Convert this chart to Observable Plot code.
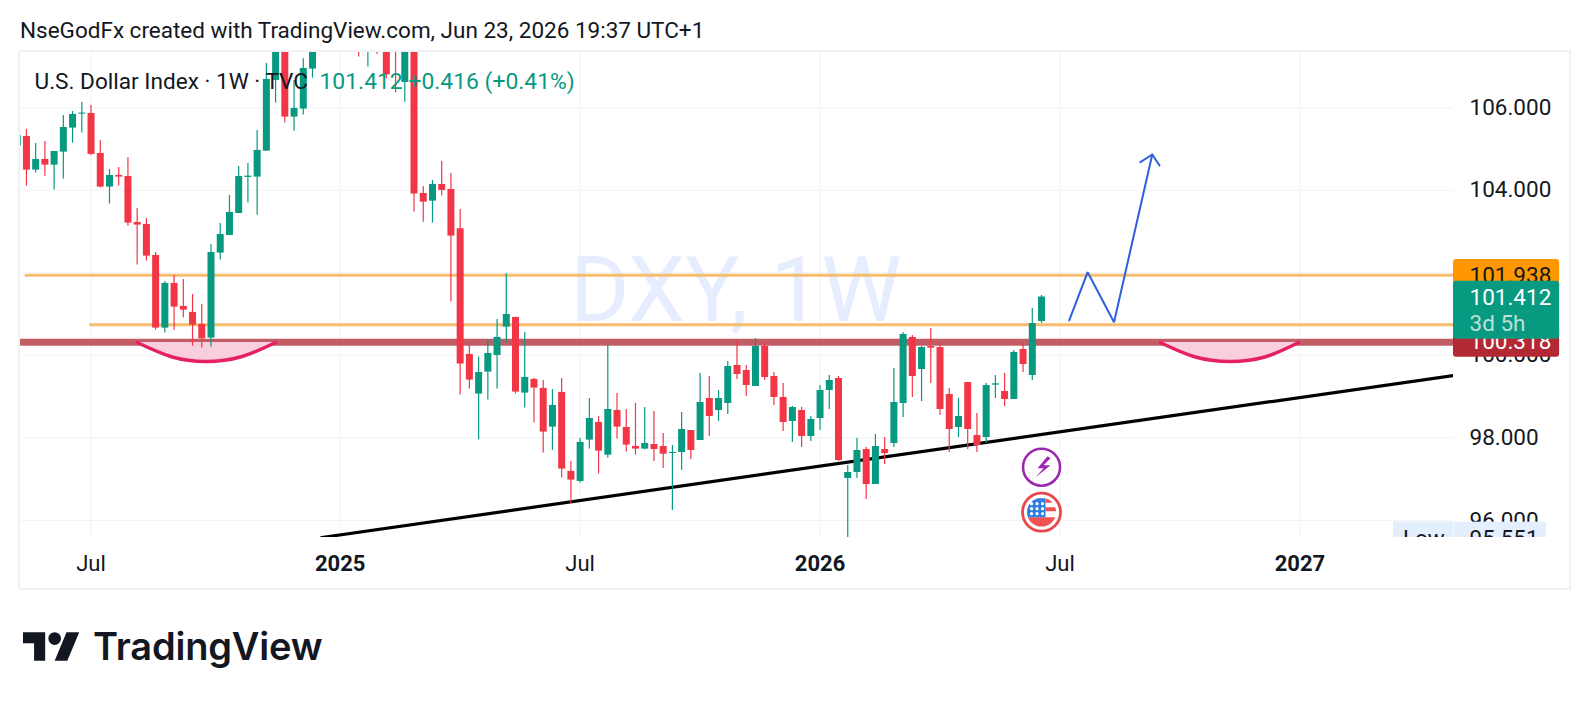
<!DOCTYPE html>
<html>
<head>
<meta charset="utf-8">
<script src="https://cdn.jsdelivr.net/npm/d3@7"></script>
<script src="https://cdn.jsdelivr.net/npm/@observablehq/plot@0.6"></script>
<style>
  html, body { margin: 0; padding: 0; background: #fff; }
  body { width: 1587px; height: 702px; overflow: hidden; position: relative; font-family: Roboto, sans-serif; color: #131722; }
  #title { height: 50px; font-size: 22.5px; line-height: 22px; padding-left: 20px; box-sizing: border-box; padding-top: 19px; white-space: nowrap; }
  #panel { position: absolute; left: 18px; top: 50px; width: 1549px; height: 536px; border: 2px solid #f1f2f5; }
  #chart { position: relative; height: 540px; }
  #chart svg { display: block; background: transparent; }
  #logo { position: absolute; left: 23px; top: 622px; display: flex; align-items: center; height: 48px; }
  #logo span { font-family: Inter, sans-serif; font-weight: 600; font-size: 38px; letter-spacing: -0.2px; margin-left: 13px; line-height: 48px; color: #131722; }
</style>
</head>
<body>
<div id="title">NseGodFx created with TradingView.com, Jun 23, 2026 19:37 UTC+1</div>
<div id="panel"></div>
<div id="chart"></div>
<div id="logo">
  <svg width="57" height="29" viewBox="0 4 36 18"><path fill="#131722" d="M14 22H7V11H0V4h14v18zM28 22h-8l7.5-18h8L28 22z"/><circle fill="#131722" cx="20" cy="8" r="4"/></svg>
  <span>TradingView</span>
</div>
<script>
// Weekly candles, first bar is the week of 6 May 2024
const firstWeek = "2024-05-06";
const opens = [105.07,105.305,104.489,104.747,104.61,104.925,105.507,105.846,105.862,104.893,104.077,104.36,104.335,103.22,103.172,102.42,100.659,101.742,101.184,101.039,100.748,100.417,102.477,102.905,103.438,104.311,104.319,104.949,106.662,107.8,105.774,105.968,106.937,108.2,108.3,108.6,108.9,109.0,107.6,108.9,108.0,107.7,106.614,107.55,103.923,103.737,104.141,104.02,103.067,100.021,99.059,99.592,99.996,100.683,100.918,99.083,99.415,99.196,98.259,99.1,97.185,96.942,97.944,98.372,97.58,98.663,98.251,97.791,97.726,97.838,97.789,97.619,97.644,98.177,97.935,98.953,98.662,98.831,99.753,99.631,99.244,100.213,99.486,98.977,98.395,98.662,98.032,98.468,99.147,99.437,97.013,97.159,97.716,96.868,97.716,97.862,98.831,100.431,99.656,100.213,100.189,99.05,98.25,99.341,98.056,98.007,99.276,99.122,98.928,100.14,99.51,100.819];
const closes = [105.33,104.489,104.747,104.61,104.941,105.523,105.838,105.871,104.869,104.077,104.36,104.319,103.204,103.156,102.404,100.659,101.742,101.168,101.095,100.732,100.4,102.493,102.929,103.463,104.335,104.343,104.966,106.687,107.9,105.774,105.984,106.953,107.7,107.8,108.6,108.9,109.0,108.4,108.9,107.9,106.8,107.4,107.6,103.907,103.713,104.141,103.996,102.889,99.786,99.398,99.584,100.045,100.433,100.99,99.108,99.463,99.205,98.138,98.784,97.241,96.974,97.888,98.469,97.677,98.687,98.259,97.823,97.726,97.863,97.716,97.603,97.644,98.201,97.692,98.856,98.516,98.953,99.728,99.534,99.268,100.213,99.462,98.977,98.371,98.735,98.032,98.444,99.147,99.389,97.45,97.159,97.692,96.868,97.789,97.619,98.856,100.504,99.486,100.189,100.173,98.686,98.201,98.516,98.201,97.813,99.268,99.308,98.928,100.068,99.777,100.771,101.412];
const highs = [105.45,105.475,105.135,105.184,104.941,105.814,105.911,106.129,106.056,105.208,104.505,104.554,104.796,103.56,103.317,102.493,101.79,101.936,101.839,101.475,101.233,102.687,103.196,103.875,104.578,104.65,105.45,107.074,108.2,108.1,106.662,107.188,107.9,108.6,108.9,109.2,109.4,109.4,109.3,109.2,108.4,108.0,107.9,107.8,104.093,104.238,104.699,104.408,103.535,100.279,99.956,100.384,100.869,101.976,100.918,100.554,99.439,99.39,99.172,99.439,97.427,97.984,98.954,98.518,100.239,99.075,98.687,98.833,98.736,98.638,98.104,97.813,98.613,98.177,99.559,99.486,99.147,99.85,100.359,99.753,100.407,100.31,99.583,99.316,98.759,98.735,98.516,99.268,99.51,99.486,97.329,97.983,97.765,98.08,98.007,99.68,100.553,100.48,100.213,100.649,100.286,99.195,98.953,99.341,98.589,99.316,99.51,99.559,100.116,100.31,101.134,101.45];
const lows = [104.95,104.101,104.416,104.343,104.004,104.271,105.143,105.386,104.844,104.053,103.665,104.101,103.131,102.186,102.283,100.61,100.538,100.61,100.901,100.223,100.174,100.198,102.307,102.905,103.438,103.689,103.398,104.949,106.113,105.628,105.434,105.822,106.719,107.6,107.9,108.3,108.6,107.228,106.986,107.293,106.7,106.363,106.137,103.471,103.228,103.204,103.859,101.289,99.035,99.18,97.952,98.914,99.18,100.295,99.059,98.72,98.356,97.629,97.694,97.023,96.401,96.902,97.726,97.12,97.508,97.968,97.653,97.58,97.702,97.426,97.256,96.238,97.207,97.474,97.935,98.032,98.395,98.565,99.413,99.001,99.244,99.389,98.783,98.153,97.886,97.765,97.91,98.177,98.686,97.426,95.551,97.013,96.504,96.868,97.353,97.765,98.492,98.977,98.88,99.316,98.541,97.644,98.007,97.716,97.644,97.862,98.953,98.759,98.928,99.583,99.389,100.771];

// Scales
const xDomain = ["2024-05-08T12:00Z", "2027-04-30T12:00Z"];
const yDomain = [95.583, 107.34];

// Axes
const priceTicks = [96, 98, 100, 102, 104, 106];
const julyTicks = ["2024-07-01", "2025-07-07", "2026-07-06"];
const yearTicks = ["2025-01-06", "2026-01-05", "2027-01-04"];
const yearLabels = ["2025", "2026", "2027"];

// Drawings
const upperLevel = 101.938, midLevel = 100.74, supportLevel = 100.318;
const upperLevelStart = "2024-05-12", midLevelStart = "2024-06-30";
const trendDates = ["2024-12-23", "2027-04-30T12:00Z"];
const trendPrices = [95.583, 99.51];
const arcPrices = [100.31, 99.965, 99.85, 99.965, 100.31];
const arcLeftDates = ["2024-08-05", "2024-08-31", "2024-09-26", "2024-10-23", "2024-11-18"];
const arcRightDates = ["2026-09-20", "2026-10-16", "2026-11-12", "2026-12-09", "2027-01-03"];
const arrowDates = ["2026-07-13", "2026-07-27", "2026-08-16", "2026-09-14"];
const arrowPrices = [100.844, 102.015, 100.802, 104.868];
const headDates = ["2026-09-05", "2026-09-14", "2026-09-19T12:00Z"];
const headPrices = [104.681, 104.868, 104.601];

// Text
const watermark = "DXY, 1W";
const legendName = "U.S. Dollar Index · 1W · TVC";
const legendValue = "101.412 +0.416 (+0.41%)";
const lastPrice = 101.412, lastPriceLabel = "101.412", countdown = "3d 5h";
const lowPrice = 95.551, lowLabel = "Low", lowValue = "95.551";

const GREEN = "#089981", RED = "#f23645", INK = "#131722", GRID = "#f1f2f5";
const d = s => new Date(s);
const weeks = opens.map((_, i) => d3.utcMonday.offset(d(firstWeek + "T00:00Z"), i));
const candles = opens.map((o, i) => ({x: weeks[i], o, c: closes[i], h: highs[i], l: lows[i]}));
const up = candles.filter(k => k.c >= k.o), down = candles.filter(k => k.c < k.o);

const zip = (xs, ys) => xs.map((x, i) => ({x: d(x), y: ys[i]}));
const arcLeft = zip(arcLeftDates, arcPrices), arcRight = zip(arcRightDates, arcPrices);

// Dates past the right of the plot, for the price-scale tags
const tagL = d("2027-04-30T12:00Z"), tagR = d("2027-07-20"), lowL = d("2027-03-16"), lowR = d("2027-07-10");

// Icon glyphs
const bolt = {draw(c) { c.moveTo(6,-11); c.lineTo(-4,1); c.lineTo(2,1); c.lineTo(-6,10); c.lineTo(9,-2); c.lineTo(2,-2); c.lineTo(9,-9); c.closePath(); }};
function band(c, R, y0, y1, xMin, xMax) {
  const ys = d3.range(y0, y1 + 0.01, (y1 - y0) / 8);
  ys.forEach((y, i) => { const w = Math.sqrt(Math.max(0, R*R - y*y)); const X = Math.min(w, xMax); i ? c.lineTo(X, y) : c.moveTo(X, y); });
  ys.slice().reverse().forEach(y => { const w = Math.sqrt(Math.max(0, R*R - y*y)); c.lineTo(Math.max(-w, xMin), y); });
  c.closePath();
}
const flagRed = {draw(c) { band(c, 14.5, -14, -9.5, 4, 15); band(c, 14.5, -5, -1, 4, 15); band(c, 14.5, 5, 14.2, -15, 15); }};
const flagBlue = {draw(c) { band(c, 14.5, -14, 5, -15, 4); }};
const flagStars = {draw(c) { [-10, -4.5, 1].forEach(x => [-8.5, -3.5, 1.5].forEach(y => { c.moveTo(x + 1.6, y); c.arc(x, y, 1.6, 0, 2*Math.PI); })); }};

const iconX = d("2026-06-22");
const boltPrice = 97.287, flagPrice = 96.196;
const at = (x, y) => [{x, y}];
const font = "Roboto, sans-serif";

const tagText = (text, y, fill) => Plot.text([text], {y: () => y, text: t => t, frameAnchor: "right", textAnchor: "start", dx: 16, fontSize: 22.5, fill, fontFamily: font});

const chart = Plot.plot({
  width: 1587, height: 540,
  marginLeft: 20, marginRight: 134, marginTop: 2, marginBottom: 53,
  style: {background: "transparent", fontFamily: font, overflow: "visible"},
  x: {type: "utc", domain: xDomain.map(d), axis: null},
  y: {domain: yDomain, axis: null},
  marks: [
    Plot.gridX([...julyTicks, ...yearTicks].map(d), {stroke: GRID, strokeOpacity: 1, strokeWidth: 1}),
    Plot.gridY(priceTicks, {stroke: GRID, strokeOpacity: 1, strokeWidth: 1}),
    Plot.text([watermark], {x: () => d("2025-11-02"), y: () => 101.53, text: t => t, fontSize: 90.5, fill: "#e6edff", fontFamily: font}),

    Plot.ruleY([supportLevel], {stroke: "#c25d66", strokeWidth: 7, clip: true}),
    Plot.ruleY([upperLevel], {x1: d(upperLevelStart), x2: d(xDomain[1]), stroke: "#f6bd6e", strokeWidth: 3}),
    Plot.ruleY([midLevel], {x1: d(midLevelStart), x2: d(xDomain[1]), stroke: "#f6bd6e", strokeWidth: 3}),

    ...[arcLeft, arcRight].flatMap(arc => [
      Plot.areaY(arc, {x: "x", y1: () => arc[0].y, y2: "y", curve: "natural", fill: "#f9cfdd"}),
      Plot.line(arc, {x: "x", y: "y", curve: "natural", stroke: "#e5225f", strokeWidth: 3.5})
    ]),

    Plot.line(zip(trendDates, trendPrices), {x: "x", y: "y", stroke: "#000", strokeWidth: 3.2, clip: true}),
    Plot.line(zip(arrowDates, arrowPrices), {x: "x", y: "y", stroke: "#2f5fdc", strokeWidth: 2, strokeLinejoin: "miter"}),
    Plot.line(zip(headDates, headPrices), {x: "x", y: "y", stroke: "#2f5fdc", strokeWidth: 2, strokeLinejoin: "miter"}),

    Plot.ruleX(down, {x: "x", y1: "l", y2: "h", stroke: RED, strokeWidth: 1.2, clip: true}),
    Plot.ruleX(up, {x: "x", y1: "l", y2: "h", stroke: GREEN, strokeWidth: 1.2, clip: true}),
    Plot.ruleX(down, {x: "x", y1: "o", y2: "c", stroke: RED, strokeWidth: 7, clip: true}),
    Plot.ruleX(up, {x: "x", y1: "o", y2: "c", stroke: GREEN, strokeWidth: 7, clip: true}),

    Plot.text([legendName], {frameAnchor: "top-left", lineAnchor: "middle", dx: 14, dy: 29, text: t => t, fontSize: 22.6, fill: INK, fontFamily: font}),
    Plot.text([legendValue], {frameAnchor: "top-left", lineAnchor: "middle", dx: 299, dy: 29, text: t => t, fontSize: 22.9, fill: GREEN, fontFamily: font}),

    Plot.dot(at(iconX, boltPrice), {x: "x", y: "y", r: 18.5, fill: "#fff", stroke: "#9c27b0", strokeWidth: 2.6}),
    Plot.dot(at(iconX, boltPrice), {x: "x", y: "y", symbol: bolt, r: 5, fill: "#9c27b0", stroke: "none"}),
    Plot.dot(at(iconX, flagPrice), {x: "x", y: "y", r: 19, fill: "#fff", stroke: "#e8484d", strokeWidth: 2.8}),
    Plot.dot(at(iconX, flagPrice), {x: "x", y: "y", symbol: flagRed, r: 5, fill: "#ef5350", stroke: "none"}),
    Plot.dot(at(iconX, flagPrice), {x: "x", y: "y", symbol: flagBlue, r: 5, fill: "#2f7de1", stroke: "none"}),
    Plot.dot(at(iconX, flagPrice), {x: "x", y: "y", symbol: flagStars, r: 5, fill: "#fff", stroke: "none"}),

    Plot.axisY(priceTicks, {anchor: "right", tickSize: 0, tickPadding: 16, tickFormat: d3.format(".3f"), fontSize: 22.5, fill: INK, label: null, fontFamily: font}),

    // Low tag, cut off at the bottom of the pane
    Plot.rect(at(lowL, 0), {x1: () => lowL, x2: () => tagL, y1: () => 96.0 - 0.045, y2: () => lowPrice - 0.5, fill: "#e3effd"}),
    Plot.rect(at(tagL, 0), {x1: () => d("2027-05-01"), x2: () => lowR, y1: () => 96.0 - 0.045, y2: () => lowPrice - 0.5, fill: "#e3effd"}),
    Plot.text([lowLabel], {x: () => d("2027-04-08"), y: () => lowPrice, text: t => t, fontSize: 22.5, fill: INK, fontFamily: font}),
    tagText(lowValue, lowPrice, INK),
    Plot.rect(at(tagL, 0), {x1: () => d("2027-03-13"), x2: () => d("2027-07-24"), y1: () => yDomain[0], y2: () => 94.5, fill: "#fff"}),

    // Price tags
    Plot.rect(at(tagL, 0), {x1: () => tagL, x2: () => tagR, y1: () => 100.711, y2: () => 99.95, fill: "#b22833", r: 3}),
    tagText("100.318", supportLevel, "#fff"),
    Plot.rect(at(tagL, 0), {x1: () => tagL, x2: () => tagR, y1: () => 101.56, y2: () => 102.32, fill: "#ff9800", r: 3}),
    tagText("101.938", upperLevel, INK),
    Plot.rect(at(tagL, 0), {x1: () => tagL, x2: () => tagR, y1: () => 100.39, y2: () => 101.796, fill: GREEN, r: 3}),
    tagText(lastPriceLabel, lastPrice - 0.01, "#fff"),
    tagText(countdown, 100.76, "rgba(255,255,255,0.72)"),

    // Time axis
    Plot.axisX(julyTicks.map(d), {anchor: "bottom", tickSize: 0, tickPadding: 18, tickFormat: () => "Jul", fontSize: 22, fill: INK, label: null, fontFamily: font}),
    Plot.axisX(yearTicks.map(d), {anchor: "bottom", tickSize: 0, tickPadding: 18, tickFormat: (t, i) => yearLabels[i], fontSize: 22, fontWeight: 700, fill: INK, label: null, fontFamily: font})
  ]
});
document.getElementById("chart").append(chart);
</script>
</body>
</html>
